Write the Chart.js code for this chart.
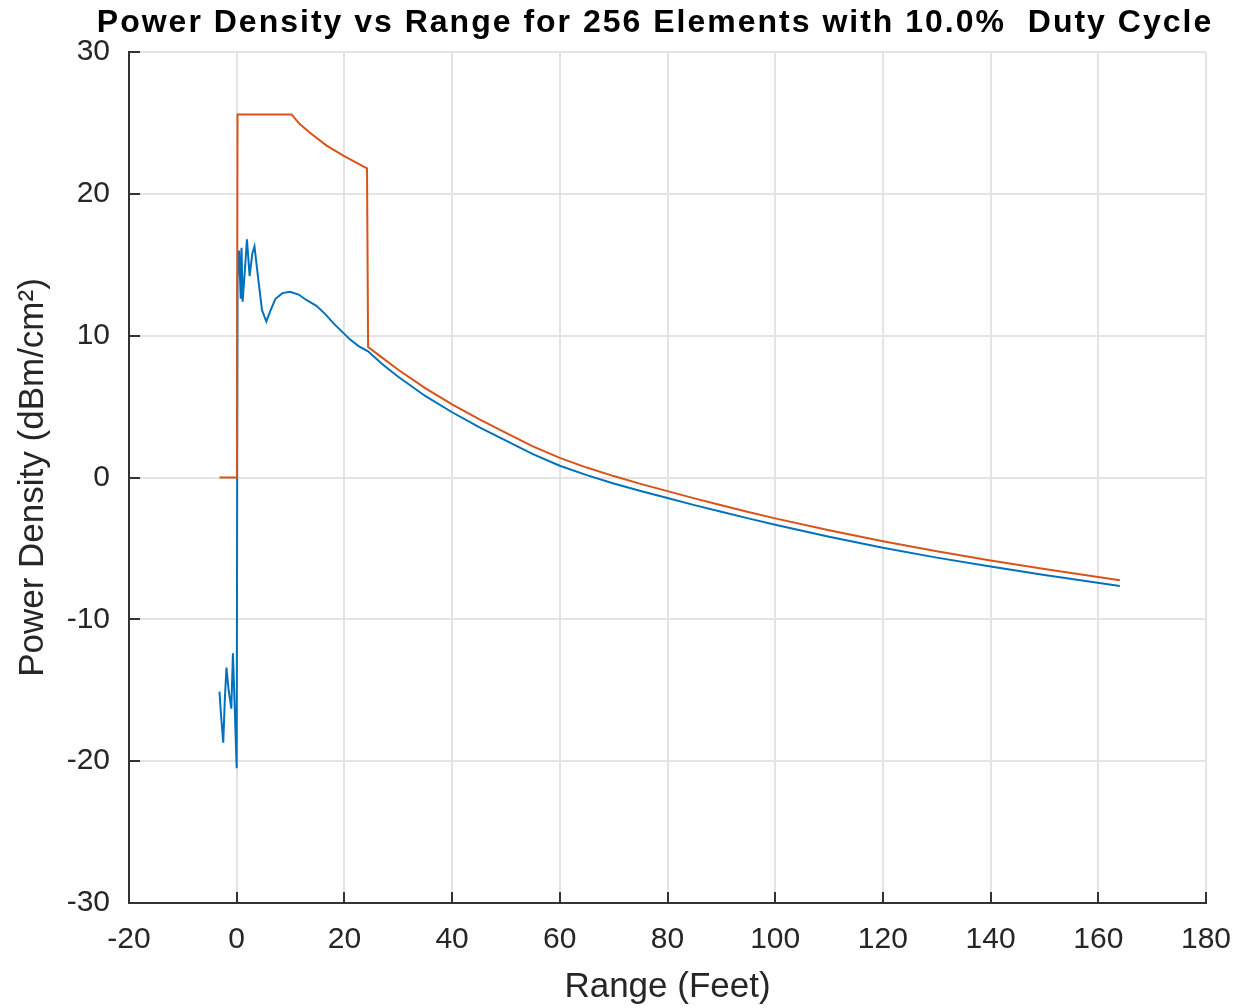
<!DOCTYPE html>
<html>
<head>
<meta charset="utf-8">
<script src="https://cdn.jsdelivr.net/npm/chart.js@4/dist/chart.umd.min.js"></script>
<style>
  html, body { margin: 0; padding: 0; background: #ffffff; }
  #wrap { width: 1235px; height: 1008px; }
</style>
</head>
<body>
<div id="wrap"><canvas id="c" width="1235" height="1008"></canvas></div>
<script>
// ---- Data ----
const chartTitle = "Power Density vs Range for 256 Elements with 10.0%  Duty Cycle";
const xAxisTitle = "Range (Feet)";
const yAxisTitle = "Power Density (dBm/cm\u00B2)";

const xTicks = [-20, 0, 20, 40, 60, 80, 100, 120, 140, 160, 180];
const yTicks = [-30, -20, -10, 0, 10, 20, 30];

// Blue series (range in feet, power density dBm/cm^2)
const blueRange = [-3.2, -2.9, -2.5, -2.2, -1.9, -1.5, -1.0, -0.7, -0.35, 0.0, 0.15, 0.45, 0.75, 0.9, 1.1, 1.5, 1.9, 2.4, 2.9, 3.3, 4.0, 4.7, 5.5, 6.3, 7.2, 8.5, 9.9, 11.5, 13.0, 14.8, 16.5, 17.9, 19.5, 21.0, 22.7, 24.4, 27, 30, 35, 40, 45, 50, 55, 60, 65, 70, 75, 80, 85, 90, 95, 100, 110, 120, 130, 140, 150, 164];
const bluePower = [-15.1, -16.8, -18.7, -15.6, -13.4, -15.0, -16.3, -12.4, -16.4, -20.5, 14.0, 16.0, 12.6, 16.2, 12.4, 14.5, 16.8, 14.2, 15.8, 16.3, 14.0, 11.8, 11.0, 11.8, 12.6, 13.0, 13.1, 12.9, 12.5, 12.1, 11.5, 10.9, 10.3, 9.75, 9.25, 8.9, 8.0, 7.1, 5.75, 4.6, 3.55, 2.6, 1.65, 0.83, 0.17, -0.42, -0.95, -1.45, -1.95, -2.42, -2.88, -3.33, -4.18, -4.96, -5.65, -6.28, -6.88, -7.65];

// Orange series
const orangeRange = [-3.2, 0.05, 0.15, 10.2, 11.6, 13.6, 16.7, 19.8, 22.2, 24.2, 24.4, 27, 30, 35, 40, 45, 50, 55, 60, 65, 70, 75, 80, 85, 90, 95, 100, 110, 120, 130, 140, 150, 164];
const orangePower = [0, 0, 25.6, 25.6, 24.95, 24.3, 23.4, 22.7, 22.2, 21.8, 9.2, 8.45, 7.6, 6.3, 5.15, 4.12, 3.15, 2.2, 1.38, 0.7, 0.1, -0.45, -0.96, -1.47, -1.96, -2.43, -2.88, -3.72, -4.5, -5.2, -5.85, -6.45, -7.25];

// ---- Build chart ----
const toPoints = (xs, ys) => xs.map((x, i) => ({ x: x, y: ys[i] }));

const FONT = '"Liberation Sans", Arial, Helvetica, sans-serif';
const AXIS_COLOR = '#333333';
const TEXT_COLOR = '#262626';
const GRID_COLOR = '#e4e4e4';

const titlePlugin = {
  id: 'matlabTitle',
  afterDraw(chart) {
    const ctx = chart.ctx;
    ctx.save();
    ctx.font = 'bold 32px ' + FONT;
    try { ctx.letterSpacing = '2px'; } catch (e) {}
    ctx.fillStyle = '#000000';
    ctx.textAlign = 'center';
    ctx.textBaseline = 'middle';
    ctx.fillText(chartTitle, 655, 23);
    ctx.restore();
  }
};

const inwardTicks = {
  id: 'inwardTicks',
  afterDatasetsDraw(chart) {
    const ctx = chart.ctx;
    const xs = chart.scales.x, ys = chart.scales.y;
    const area = chart.chartArea;
    const len = 11;
    ctx.save();
    ctx.strokeStyle = AXIS_COLOR;
    ctx.lineWidth = 2;
    ctx.beginPath();
    xTicks.forEach(v => {
      const p = Math.round(xs.getPixelForValue(v));
      ctx.moveTo(p, area.bottom);
      ctx.lineTo(p, area.bottom - len);
    });
    yTicks.forEach(v => {
      const p = Math.round(ys.getPixelForValue(v));
      ctx.moveTo(area.left, p);
      ctx.lineTo(area.left + len, p);
    });
    ctx.stroke();
    ctx.restore();
  }
};

new Chart(document.getElementById('c'), {
  type: 'scatter',
  data: {
    datasets: [
      {
        label: 'Power density',
        data: toPoints(blueRange, bluePower),
        showLine: true,
        borderColor: '#0072BD',
        backgroundColor: '#0072BD',
        borderWidth: 2,
        pointRadius: 0,
        tension: 0,
        order: 2
      },
      {
        label: 'Limit',
        data: toPoints(orangeRange, orangePower),
        showLine: true,
        borderColor: '#D95319',
        backgroundColor: '#D95319',
        borderWidth: 2,
        pointRadius: 0,
        tension: 0,
        order: 1
      }
    ]
  },
  options: {
    responsive: false,
    animation: false,
    devicePixelRatio: 1,
    layout: { padding: { top: 52, right: 29, bottom: 0, left: 0 } },
    plugins: {
      legend: { display: false },
      title: { display: false },
      tooltip: { enabled: false }
    },
    scales: {
      x: {
        type: 'linear',
        min: -20,
        max: 180,
        afterBuildTicks(scale) { scale.ticks = xTicks.map(v => ({ value: v })); },
        afterFit(scale) { scale.height = 105; scale.paddingRight = 0; scale.paddingLeft = 0; },
        grid: { color: GRID_COLOR, lineWidth: 2, drawTicks: false },
        border: { display: true, color: AXIS_COLOR, width: 2 },
        ticks: { color: TEXT_COLOR, padding: 19, font: { family: FONT, size: 30 }, maxRotation: 0 },
        title: { display: true, text: xAxisTitle, color: TEXT_COLOR, font: { family: FONT, size: 35 }, padding: { top: 0, bottom: 0 } }
      },
      y: {
        type: 'linear',
        min: -30,
        max: 30,
        afterBuildTicks(scale) { scale.ticks = yTicks.map(v => ({ value: v })); },
        afterFit(scale) { scale.width = 129; scale.paddingTop = 0; scale.paddingBottom = 0; },
        grid: { color: GRID_COLOR, lineWidth: 2, drawTicks: false },
        border: { display: true, color: AXIS_COLOR, width: 2 },
        ticks: { color: TEXT_COLOR, padding: 19, font: { family: FONT, size: 30 } },
        title: { display: true, text: yAxisTitle, color: TEXT_COLOR, font: { family: FONT, size: 35 }, padding: { top: 12, bottom: 0 } }
      }
    }
  },
  plugins: [titlePlugin, inwardTicks]
});
</script>
</body>
</html>
